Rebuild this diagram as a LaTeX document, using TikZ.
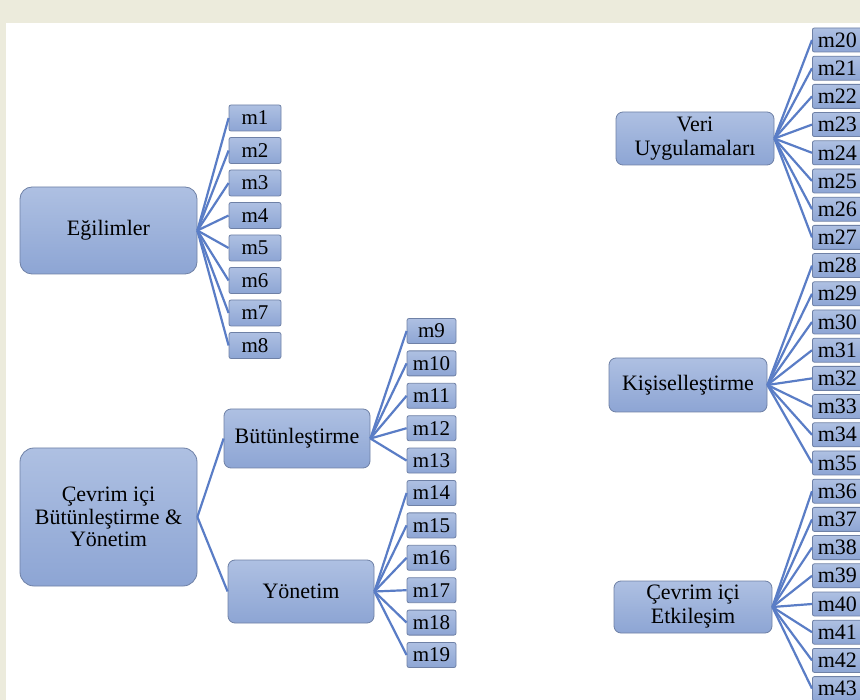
\documentclass[tikz,border=0pt]{standalone}
\usepackage{fontspec}
\setmainfont{Liberation Serif}
\definecolor{zemin}{HTML}{ECEBDC}
\definecolor{kutuust}{HTML}{AEC0E2}
\definecolor{kutualt}{HTML}{8DA5D4}
\definecolor{kenar}{HTML}{6F81A6}
\definecolor{cizgi}{HTML}{5A7DC6}
\begin{document}
\begin{tikzpicture}[x=1pt,y=-1pt,
	tema/.style={draw=kenar,line width=0.8pt,top color=kutuust,bottom color=kutualt,rounded corners=7pt,align=center,inner sep=0pt,font=\fontsize{22}{24}\selectfont},
	madde/.style={draw=kenar,line width=0.8pt,top color=kutuust,bottom color=kutualt,rounded corners=2pt,inner sep=0pt,font=\fontsize{21}{21}\selectfont},
	bag/.style={draw=cizgi,line width=2.2pt}]
	\useasboundingbox (0,0) rectangle (860,700);
	\fill[zemin] (0,0) rectangle (860,700);
	\fill[white] (6,23) rectangle (860,700);
	\clip (0,0) rectangle (860,700);
	% Sol üst
	\node[tema,rounded corners=12pt,minimum width=177pt,minimum height=87pt] (egilim) at (108.5,230.5) {Eğilimler};
	\foreach \i in {1,...,8}
		\node[madde,minimum width=52pt,minimum height=26pt] (m\i) at (255,{118+32.5*(\i-1)}) {m\i};
	\foreach \i in {1,...,8}
		\draw[bag] (egilim.east) -- (m\i.west);
	% Sol alt
	\node[tema,rounded corners=14pt,minimum width=177pt,minimum height=138pt,font=\fontsize{22}{22.7}\selectfont] (cevrim) at (108.5,517) {Çevrim içi\\Bütünleştirme \&\\Yönetim};
	\node[tema,minimum width=146pt,minimum height=59pt] (butun) at (297,438.5) {Bütünleştirme};
	\node[tema,minimum width=146pt,minimum height=63pt] (yonetim) at (301,591.5) {Yönetim};
	\draw[bag] (cevrim.east) -- (butun.west);
	\draw[bag] (cevrim.east) -- (yonetim.west);
	\foreach \i in {9,...,19}
		\node[madde,minimum width=49pt,minimum height=25pt] (m\i) at (431.5,{331+32.4*(\i-9)}) {m\i};
	\foreach \i in {9,...,13}
		\draw[bag] (butun.east) -- (m\i.west);
	\foreach \i in {14,...,19}
		\draw[bag] (yonetim.east) -- (m\i.west);
	% Sağ
	\node[tema,minimum width=158pt,minimum height=53pt] (veri) at (695,138.5) {Veri\\Uygulamaları};
	\node[tema,minimum width=158pt,minimum height=54pt] (kisisel) at (688,385) {Kişiselleştirme};
	\node[tema,minimum width=158pt,minimum height=52pt] (etkilesim) at (693,607) {Çevrim içi\\Etkileşim};
	\foreach \i in {20,...,43}
		\node[madde,anchor=west,minimum width=50pt,minimum height=24pt,font=\fontsize{22}{22}\selectfont] (m\i) at (812,{40+28.2*(\i-20)}) {m\i};
	\foreach \i in {20,...,27}
		\draw[bag] (veri.east) -- (m\i.west);
	\foreach \i in {28,...,35}
		\draw[bag] (kisisel.east) -- (m\i.west);
	\foreach \i in {36,...,43}
		\draw[bag] (etkilesim.east) -- (m\i.west);
\end{tikzpicture}
\end{document}
